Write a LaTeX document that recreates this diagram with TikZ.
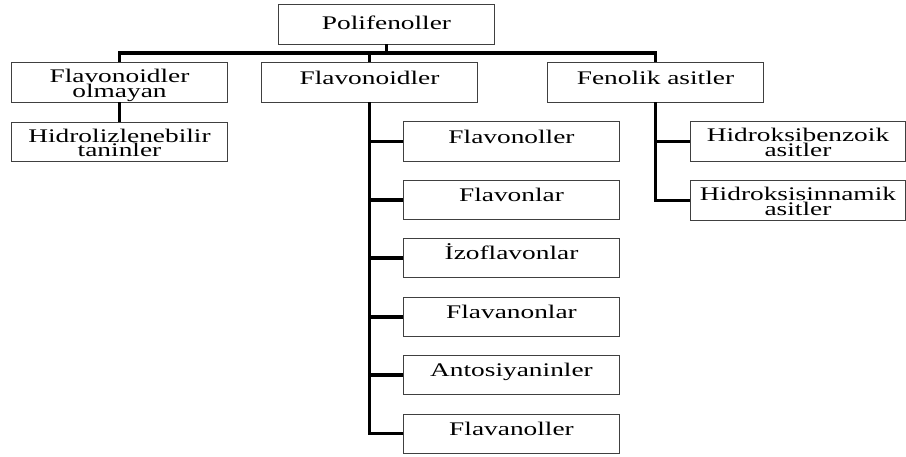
\documentclass[tikz,border=0pt]{standalone}
\usepackage{fontspec}
\setmainfont{Liberation Serif}[FakeStretch=1.42]

\tikzset{
    kutu/.style={draw=black!75, line width=0.7pt, minimum width=5.375cm, minimum height=0.975cm,
        inner sep=1pt, align=center, font=\fontsize{13.7}{10.3}\selectfont},
    tek/.style={text height=9.5pt, text depth=7.3pt},
    iki/.style={text height=23pt, text depth=1.8pt},
    bag/.style={line width=2.6pt}
}

\begin{document}
\begin{tikzpicture}[x=0.025cm, y=-0.025cm]
    \useasboundingbox (0,0) rectangle (906,457);

    % top
    \node[kutu,text height=9.5pt,text depth=2.7pt] (poli) at (386.5,24.5) {Polifenoller};

    % second level
    \node[kutu,iki] (flavsiz) at (119.5,82.5) {Flavonoidler\\olmayan};
    \node[kutu,tek] (flav) at (369.5,82.5) {Flavonoidler};
    \node[kutu,tek] (fenol) at (655.5,82.5) {Fenolik asitler};

    % horizontal bar
    \coordinate (bar) at (0,53);
    \draw[bag] (flavsiz.north) |- (fenol.north |- bar) -- (fenol.north);
    \draw[bag] (poli.south) -- (poli.south |- bar);
    \draw[bag] (flav.north) -- (flav.north |- bar);

    % Flavonoidler olmayan
    \node[kutu,iki] (hidro) at (119.5,142) {Hidrolizlenebilir\\taninler};
    \draw[bag] (flavsiz.south) -- (hidro.north);

    % Flavonoidler
    \foreach \ad [count=\i] in {Flavonoller, Flavonlar, İzoflavonlar, Flavanonlar, Antosiyaninler, Flavanoller} {
        \node[kutu,tek] (f\i) at (511.5,{141.5+58.4*(\i-1)}) {\ad};
        \draw[bag] (f\i.west) -- (f\i.west -| flav.south);
    }
    \draw[bag] (flav.south) |- (f6.west);

    % Fenolik asitler
    \node[kutu,iki] (hb) at (798,141.5) {Hidroksibenzoik\\asitler};
    \node[kutu,iki] (hs) at (798,200.5) {Hidroksisinnamik\\asitler};
    \draw[bag] (hb.west) -- (hb.west -| fenol.south);
    \draw[bag] (fenol.south) |- (hs.west);
\end{tikzpicture}
\end{document}
